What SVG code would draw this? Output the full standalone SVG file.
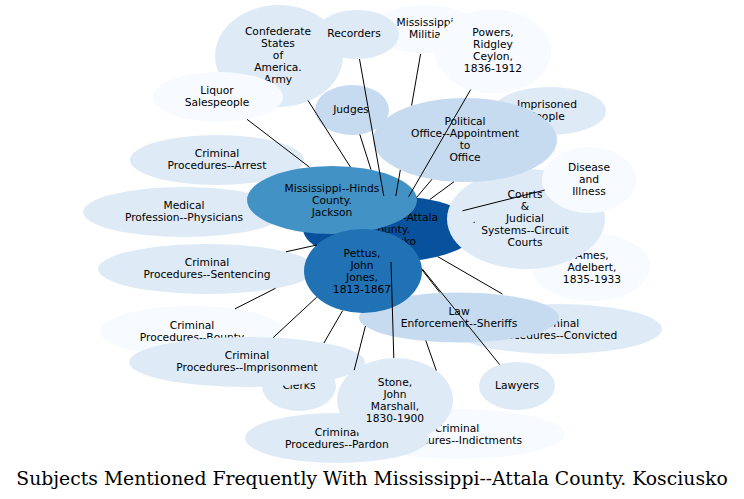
<svg xmlns="http://www.w3.org/2000/svg" width="744" height="499" viewBox="0 0 744 499">
<style>
text{font-family:"DejaVu Sans",Verdana,sans-serif;font-size:10.7px;text-anchor:middle;fill:#000}
.title{font-family:"DejaVu Serif","Liberation Serif",serif;font-size:18.8px}
.c0{fill:#08519c}.c1{fill:#2171b5}.c2{fill:#4292c6}.c3{fill:#c6dbef}.c4{fill:#deebf7}.c5{fill:#f7fbff}
.e{stroke:#000;stroke-width:1;fill:none}
</style>
<rect width="744" height="499" fill="#fff"/>
<g id="root"><ellipse class="c0" cx="390" cy="229" rx="87" ry="33"/><text x="390" y="221">Mississippi--Attala</text><text x="390" y="233">County.</text><text x="390" y="245">Kosciusko</text></g>
<g id="ames"><ellipse class="c5" cx="591" cy="267" rx="59" ry="34"/><text x="592" y="259">Ames,</text><text x="592" y="271">Adelbert,</text><text x="592" y="283">1835-1933</text></g>
<g id="courts"><ellipse class="c4" cx="526" cy="219" rx="79" ry="50"/><text x="525" y="198">Courts</text><text x="525" y="210">&amp;</text><text x="525" y="222">Judicial</text><text x="525" y="234">Systems--Circuit</text><text x="525" y="246">Courts</text></g>
<g id="disease"><ellipse class="c5" cx="589" cy="180" rx="47" ry="33"/><text x="589" y="170.5">Disease</text><text x="589" y="182.5">and</text><text x="589" y="194.5">Illness</text></g>
<g id="imprisoned-people"><ellipse class="c4" cx="549.5" cy="111" rx="56.5" ry="24"/><text x="547" y="108">Imprisoned</text><text x="547" y="120">People</text></g>
<g id="arrest"><ellipse class="c4" cx="217" cy="160" rx="87" ry="25"/><text x="217" y="157">Criminal</text><text x="217" y="169">Procedures--Arrest</text></g>
<g id="medical"><ellipse class="c4" cx="184" cy="212" rx="101" ry="25"/><text x="184" y="209">Medical</text><text x="184" y="221">Profession--Physicians</text></g>
<g id="confederate"><ellipse class="c4" cx="279" cy="56" rx="64" ry="51"/><text x="278" y="35">Confederate</text><text x="278" y="47">States</text><text x="278" y="59">of</text><text x="278" y="71">America.</text><text x="278" y="83">Army</text></g>
<g id="liquor"><ellipse class="c5" cx="218" cy="97" rx="65" ry="25"/><text x="217" y="94">Liquor</text><text x="217" y="106">Salespeople</text></g>
<g id="judges"><ellipse class="c3" cx="352" cy="110" rx="37" ry="25"/><text x="351" y="113">Judges</text></g>
<g id="hinds"><ellipse class="c2" cx="332" cy="200" rx="85" ry="34"/><text x="332" y="192">Mississippi--Hinds</text><text x="332" y="204">County.</text><text x="332" y="216">Jackson</text></g>
<g id="militia"><ellipse class="c5" cx="425" cy="29" rx="55" ry="24"/><text x="425" y="26">Mississippi</text><text x="425" y="38">Militia</text></g>
<g id="recorders"><ellipse class="c4" cx="357" cy="34.5" rx="42" ry="24.5"/><text x="354" y="37">Recorders</text></g>
<g id="political"><ellipse class="c3" cx="465" cy="140" rx="92" ry="42"/><text x="465" y="125">Political</text><text x="465" y="137">Office--Appointment</text><text x="465" y="149">to</text><text x="465" y="161">Office</text></g>
<g id="powers"><ellipse class="c5" cx="493" cy="51.5" rx="58" ry="42"/><text x="493" y="36">Powers,</text><text x="493" y="48">Ridgley</text><text x="493" y="60">Ceylon,</text><text x="493" y="72">1836-1912</text></g>
<g id="convicted"><ellipse class="c4" cx="557" cy="329" rx="105" ry="25"/><text x="557" y="326.5">Criminal</text><text x="557" y="338.5">Procedures--Convicted</text></g>
<g id="law-enforcement"><ellipse class="c3" cx="459" cy="317.5" rx="100" ry="25"/><text x="459" y="315">Law</text><text x="459" y="327">Enforcement--Sheriffs</text></g>
<g id="lawyers"><ellipse class="c4" cx="517" cy="386" rx="38" ry="24"/><text x="517" y="389">Lawyers</text></g>
<g id="bounty"><ellipse class="c5" cx="192" cy="331" rx="92" ry="25"/><text x="192" y="329">Criminal</text><text x="192" y="341">Procedures--Bounty</text></g>
<g id="sentencing"><ellipse class="c4" cx="207" cy="269" rx="109" ry="25"/><text x="207" y="266">Criminal</text><text x="207" y="278">Procedures--Sentencing</text></g>
<g id="clerks"><ellipse class="c4" cx="299" cy="386" rx="37" ry="25"/><text x="299" y="389">Clerks</text></g>
<g id="imprisonment"><ellipse class="c4" cx="247" cy="362" rx="118" ry="25"/><text x="247" y="359">Criminal</text><text x="247" y="371">Procedures--Imprisonment</text></g>
<g id="pettus"><ellipse class="c1" cx="363" cy="271" rx="59" ry="42"/><text x="362" y="257">Pettus,</text><text x="362" y="269">John</text><text x="362" y="281">Jones,</text><text x="362" y="293">1813-1867</text></g>
<g id="indictments"><ellipse class="c5" cx="457" cy="434" rx="108" ry="25"/><text x="457" y="432">Criminal</text><text x="457" y="444">Procedures--Indictments</text></g>
<g id="pardon"><ellipse class="c4" cx="337" cy="438" rx="92" ry="25"/><text x="337" y="436">Criminal</text><text x="337" y="448">Procedures--Pardon</text></g>
<g id="stone"><ellipse class="c4" cx="395" cy="400" rx="58" ry="42"/><text x="395" y="386">Stone,</text><text x="395" y="398">John</text><text x="395" y="410">Marshall,</text><text x="395" y="422">1830-1900</text></g>
<g id="connectors">
<path class="e" d="M247,119.3L309.5,167.2"/>
<path class="e" d="M308,100.5L350.4,167"/>
<path class="e" d="M359.8,134.4L371,169.7"/>
<path class="e" d="M359.5,59L383.8,196"/>
<path class="e" d="M420.6,53.9L411.6,105.5M400.3,170L395.8,196.1"/>
<path class="e" d="M470.6,89.7L408.6,196.8"/>
<path class="e" d="M432,179.2L416.5,197.6"/>
<path class="e" d="M454,181.7L429.7,199.6"/>
<path class="e" d="M462.5,210.8L544.7,190.1"/>
<path class="e" d="M473.6,222.4L474.8,222.3"/>
<path class="e" d="M437.7,256.6L502.5,294.1"/>
<path class="e" d="M422,269.8L439.8,292.5"/>
<path class="e" d="M422,268.6L499.7,364.6"/>
<path class="e" d="M391,262L393.8,358"/>
<path class="e" d="M425.8,340.6L436.3,370.5"/>
<path class="e" d="M365.4,326.1L354.2,370.2"/>
<path class="e" d="M342.7,310.5L323.9,343"/>
<path class="e" d="M316.8,297.1L273.2,337.6"/>
<path class="e" d="M285.9,251.8L316.8,245"/>
<path class="e" d="M275.5,288.3L234.9,308.9"/>
</g>
<text class="title" x="372" y="485">Subjects Mentioned Frequently With Mississippi--Attala County. Kosciusko</text>
</svg>
